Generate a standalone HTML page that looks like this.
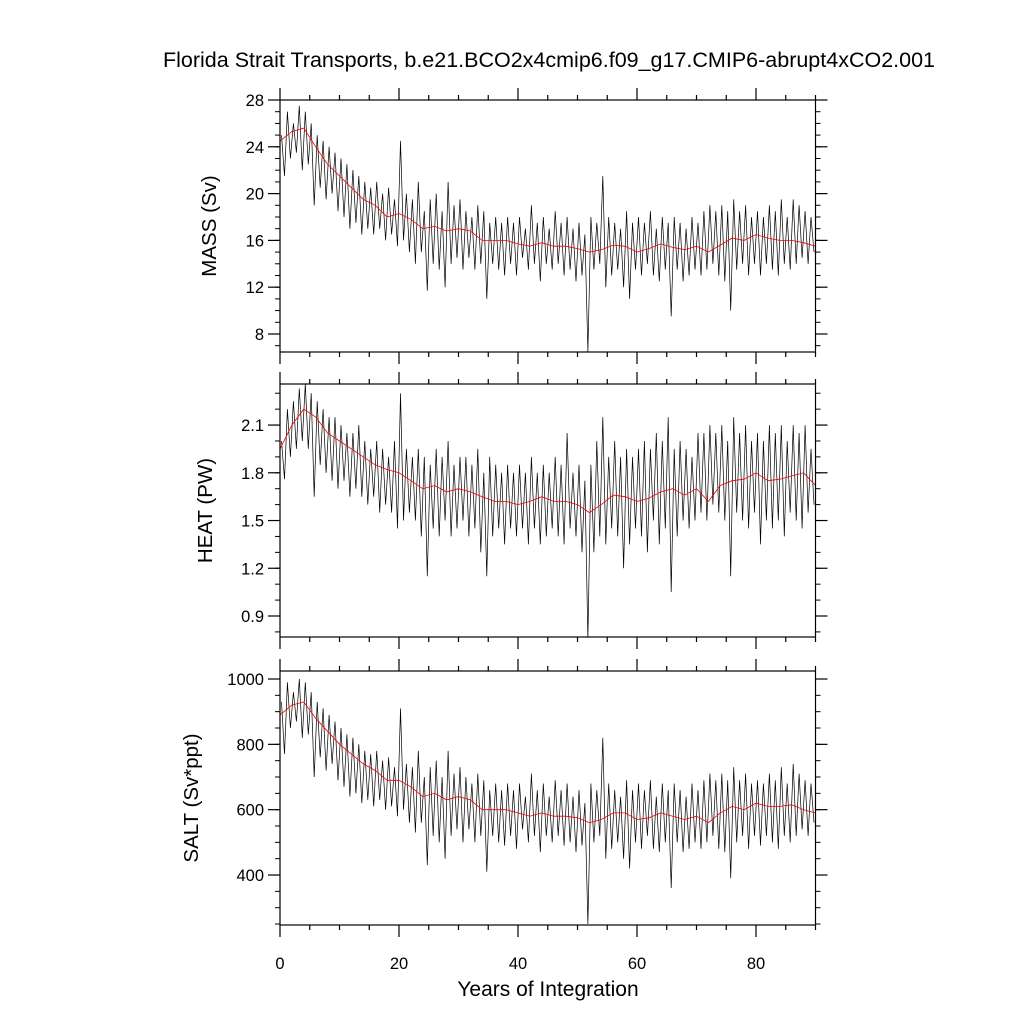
<!DOCTYPE html>
<html><head><meta charset="utf-8"><style>
body{margin:0;background:#fff}
svg{display:block;font-family:"Liberation Sans",sans-serif}
</style></head><body>
<svg id="c" width="1024" height="1024" viewBox="0 0 1024 1024">
<text x="549" y="67" font-size="21.5" text-anchor="middle">Florida Strait Transports, b.e21.BCO2x4cmip6.f09_g17.CMIP6-abrupt4xCO2.001</text>
<text x="548" y="996" font-size="21" text-anchor="middle">Years of Integration</text>
</svg>
<script>
// Black series: two samples per year (a high and a low value), years 0..89
const massRaw=[25,21.5,27,23,26,23.5,27.5,22,27,22.5,26,19,25,20.5,24.5,19.5,24,20,23.5,18.5,23,18,22.5,17,22,17.5,21.5,16.5,21,17,20.5,16.5,21,17,20,16,20.5,16.5,19.5,15.5,24.5,16,20,15,19.5,14,21,15,18.5,11.7,19.5,14,20,13.5,18.5,12,21,14,19,14.5,19.5,13.5,18.5,14.5,18,13.5,19,14,18.5,11,17.5,14,18,13.5,17.5,13,18,14,17.5,13,18,14.5,17,13.5,19,14,17.5,12.5,18,14,17,13.5,18.5,14,17.5,13,18,13.5,17,12.5,17.5,13,16.5,6.5,18,13.5,17.5,14,21.5,12,18,13,17.5,13.5,17,12,18.5,11,17.5,13.5,18,13,17.5,14,18.5,13,17,12.5,18,13.5,17.5,9.5,18,13.5,17.5,12.5,17,13,18,13.5,17.5,13,18.5,13.5,19,14,18.5,13,19,12.5,18.5,10,19.5,13.5,18.5,14,19,13,18,14,18.5,13,18,14,19,13.5,18.5,13,19.5,14,18,13.5,19.5,14,19,14.5,18.5,14,18,15];
const heatRaw=[2.0,1.76,2.2,1.9,2.25,1.95,2.33,2.0,2.36,1.95,2.3,1.65,2.25,1.85,2.2,1.8,2.15,1.75,2.15,1.7,2.1,1.75,2.05,1.65,2.05,1.7,2.1,1.65,2.0,1.6,1.95,1.65,2.0,1.55,1.95,1.6,1.9,1.55,2.0,1.45,2.3,1.5,1.95,1.55,1.9,1.5,1.95,1.4,1.9,1.15,1.85,1.45,1.95,1.4,1.9,1.5,2.0,1.4,1.85,1.45,1.9,1.5,1.9,1.4,1.85,1.45,1.95,1.3,1.8,1.15,1.9,1.4,1.85,1.45,1.8,1.35,1.85,1.45,1.8,1.4,1.85,1.45,1.8,1.35,1.9,1.45,1.8,1.35,1.85,1.4,1.8,1.45,1.9,1.4,1.85,1.35,2.05,1.45,1.8,1.4,1.85,1.3,1.75,0.75,1.85,1.3,2.0,1.4,2.15,1.35,1.9,1.45,2.0,1.4,1.9,1.2,1.95,1.35,1.9,1.45,1.95,1.4,2.0,1.3,1.95,1.5,2.05,1.35,2.0,1.45,2.15,1.05,1.95,1.4,2.0,1.5,1.95,1.45,1.9,1.5,2.05,1.55,2.05,1.5,2.1,1.6,2.05,1.55,2.1,1.5,2.0,1.15,2.15,1.55,2.05,1.5,2.1,1.45,2.0,1.55,2.05,1.35,2.0,1.5,2.1,1.45,2.05,1.5,2.1,1.4,2.0,1.55,2.1,1.5,2.05,1.45,2.1,1.55,1.95,1.6];
const saltRaw=[930,770,990,850,960,870,1000,820,990,830,960,700,930,760,910,720,890,740,870,690,850,670,830,640,820,650,800,620,780,630,770,610,780,630,750,600,760,610,730,580,910,600,740,560,730,530,780,560,700,430,730,520,750,500,700,450,780,520,710,540,730,500,700,540,680,500,710,520,690,410,660,520,680,500,660,490,680,520,660,480,680,540,640,500,710,520,660,470,680,520,640,500,690,520,660,490,680,500,640,470,660,490,620,250,680,500,660,520,820,450,680,480,660,500,640,450,690,420,660,500,680,480,660,520,690,480,640,470,680,500,660,360,680,500,660,470,640,480,680,500,660,480,690,500,710,520,690,480,710,470,690,390,730,500,690,520,710,480,680,520,690,490,680,520,710,500,690,480,730,520,680,500,740,520,710,540,690,520,680,560];
// Red smoothed series: one value every 2 years (0..90)
const massSmooth=[24.5,25.3,25.6,24,22.5,21.5,20.5,19.5,19,18,18.3,17.8,17,17.2,16.8,17,16.8,16,16,16,15.7,15.5,15.8,15.5,15.5,15.3,15,15.2,15.6,15.5,15,15.3,15.7,15.4,15.2,15.5,15,15.6,16.2,16,16.5,16.2,16,16,15.8,15.5];
const heatSmooth=[1.95,2.1,2.2,2.15,2.05,2.0,1.95,1.9,1.85,1.82,1.8,1.75,1.7,1.72,1.68,1.7,1.68,1.65,1.62,1.62,1.6,1.62,1.65,1.62,1.62,1.6,1.55,1.6,1.66,1.65,1.62,1.64,1.68,1.7,1.66,1.7,1.62,1.72,1.75,1.76,1.8,1.75,1.76,1.78,1.8,1.72];
const saltSmooth=[890,920,930,880,840,800,770,740,720,690,690,670,640,650,630,640,630,600,600,600,590,580,590,580,580,575,560,570,590,590,570,575,590,580,570,580,560,590,610,600,620,610,610,615,600,590];
const xMajorTicks=[0,20,40,60,80];
const massTicks=[8,12,16,20,24,28];
const heatTicks=[0.9,1.2,1.5,1.8,2.1];
const saltTicks=[400,600,800,1000];

const NS='http://www.w3.org/2000/svg';
const svg=document.getElementById('c');
const X0=280,X1=815.5,XMAX=90;
const xs=v=>X0+(X1-X0)*v/XMAX;
function mk(tag,attrs,parent){const e=document.createElementNS(NS,tag);for(const k in attrs)e.setAttribute(k,attrs[k]);(parent||svg).appendChild(e);return e;}

function panel(cfg){
  const g=mk('g',{});
  
  
  const ys=v=>cfg.top+(cfg.bot-cfg.top)*(cfg.vmax-v)/(cfg.vmax-cfg.vmin);
  for(let v=Math.ceil(cfg.vmin/cfg.minor)*cfg.minor;v<=cfg.vmax+1e-9;v+=cfg.minor){
    const y=ys(v);
    mk('line',{x1:X0-5,x2:X0,y1:y,y2:y,stroke:'#000','stroke-width':1},g);
    mk('line',{x1:X1,x2:X1+5,y1:y,y2:y,stroke:'#000','stroke-width':1},g);
  }
  cfg.ticks.forEach(v=>{
    const y=ys(v);
    mk('line',{x1:X0-12,x2:X0,y1:y,y2:y,stroke:'#000','stroke-width':1.2},g);
    mk('line',{x1:X1,x2:X1+12,y1:y,y2:y,stroke:'#000','stroke-width':1.2},g);
    const t=mk('text',{x:X0-16,y:y+6,'font-size':16.5,'text-anchor':'end'},g);
    t.textContent=cfg.fmt(v);
    
    
  });
  for(let v=0;v<=XMAX;v+=5){
    const x=xs(v),L=(v%20===0)?12:5;
    mk('line',{x1:x,x2:x,y1:cfg.top-L,y2:cfg.top,stroke:'#000','stroke-width':1.2},g);
    mk('line',{x1:x,x2:x,y1:cfg.bot,y2:cfg.bot+L,stroke:'#000','stroke-width':1.2},g);
  }
  if(cfg.xlabels){
    xMajorTicks.forEach(v=>{
      const t=mk('text',{x:xs(v),y:cfg.bot+44,'font-size':16.5,'text-anchor':'middle'},g);
      t.textContent=v;
      
      
    });
  }
  const cp=mk('clipPath',{id:'cp'+cfg.name},g);
  mk('rect',{x:X0,y:cfg.top,width:X1-X0,height:cfg.bot-cfg.top},cp);
  let d='';
  cfg.raw.forEach((v,i)=>{const x=xs(i/2+0.25);d+=(i?'L':'M')+x.toFixed(1)+' '+ys(v).toFixed(1);});
  const p=mk('path',{d:d,fill:'none',stroke:'#000','stroke-width':0.7,'clip-path':'url(#cp'+cfg.name+')'},g);
  
  
  let d2='';
  cfg.smooth.forEach((v,i)=>{d2+=(i?'L':'M')+xs(i*2).toFixed(1)+' '+ys(v).toFixed(1);});
  const p2=mk('path',{d:d2,fill:'none',stroke:'#e00','stroke-width':0.8,'clip-path':'url(#cp'+cfg.name+')'},g);
  
  
  const r=mk('rect',{x:X0,y:cfg.top,width:X1-X0,height:cfg.bot-cfg.top,fill:'none',stroke:'#000','stroke-width':1.2},g);
  
  
  const cy=(cfg.top+cfg.bot)/2;
  const t=mk('text',{x:cfg.tx,y:cy,'font-size':20.5,'text-anchor':'middle',transform:'rotate(-90 '+cfg.tx+' '+cy+')'},g);
  t.textContent=cfg.title;
  
  
}
panel({name:'mass',top:100,bot:352,vmin:6.46,vmax:28,minor:1,ticks:massTicks,fmt:v=>String(v),raw:massRaw,smooth:massSmooth,title:'MASS (Sv)',tx:216,xlabels:false});
panel({name:'heat',top:384,bot:637,vmin:0.768,vmax:2.358,minor:0.1,ticks:heatTicks,fmt:v=>v.toFixed(1),raw:heatRaw,smooth:heatSmooth,title:'HEAT (PW)',tx:212,xlabels:false});
panel({name:'salt',top:671,bot:925,vmin:247,vmax:1024.5,minor:50,ticks:saltTicks,fmt:v=>String(v),raw:saltRaw,smooth:saltSmooth,title:'SALT (Sv*ppt)',tx:198,xlabels:true});
</script>
</body></html>
